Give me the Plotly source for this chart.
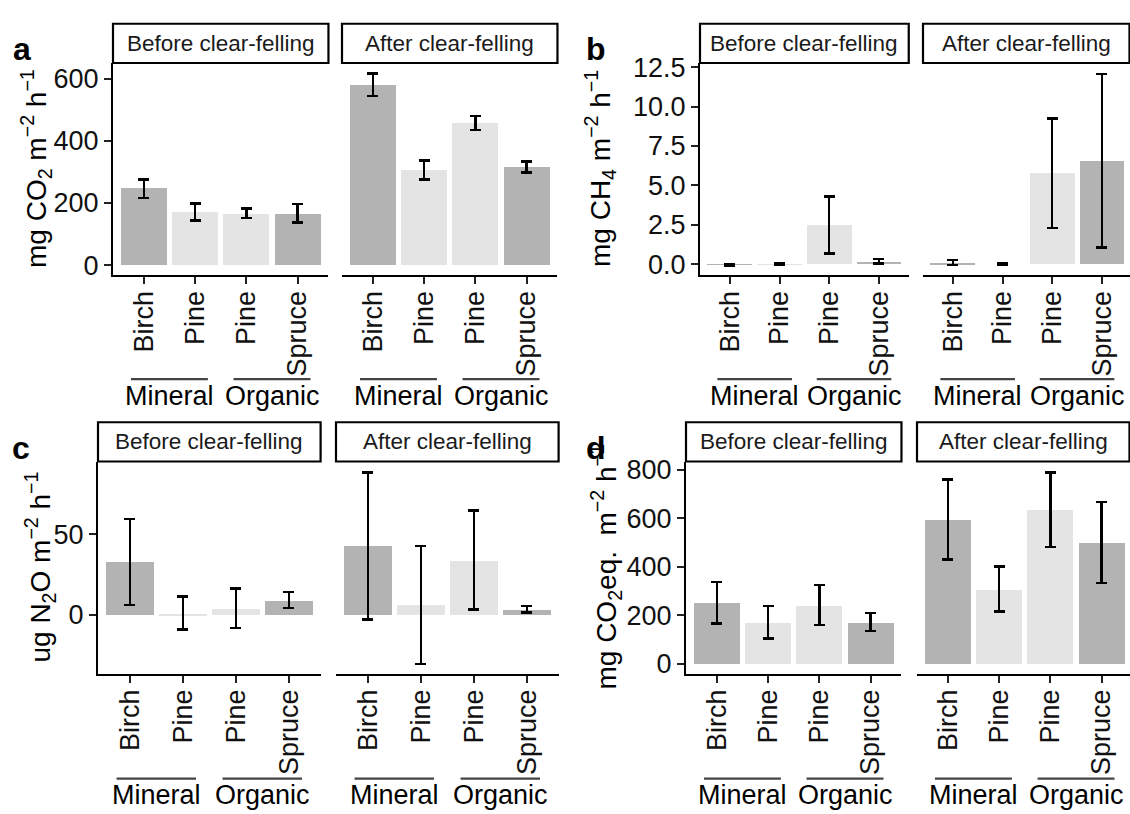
import plotly.graph_objects as go

W, H = 1130, 814
FONT = "Liberation Sans, Arial, sans-serif"

# ---------------- data ----------------
species = ["Birch", "Pine", "Pine", "Spruce"]
soil_groups = ["Mineral", "Organic"]
periods = ["Before clear-felling", "After clear-felling"]
bar_colors = ["#b3b3b3", "#e4e4e4", "#e4e4e4", "#b3b3b3"]

# a: CO2 (mg CO2 m-2 h-1)
co2_before = [247, 171, 166, 166]
co2_before_lo = [216, 144, 151, 137]
co2_before_hi = [276, 199, 183, 196]
co2_after = [580, 307, 456, 316]
co2_after_lo = [544, 276, 434, 298]
co2_after_hi = [617, 337, 479, 334]

# b: CH4 (mg CH4 m-2 h-1)
ch4_before = [-0.04, 0.01, 2.49, 0.17]
ch4_before_lo = [-0.09, -0.03, 0.68, 0.05]
ch4_before_hi = [0.01, 0.05, 4.31, 0.33]
ch4_after = [0.10, 0.00, 5.76, 6.55]
ch4_after_lo = [-0.04, -0.04, 2.30, 1.08]
ch4_after_hi = [0.27, 0.05, 9.25, 12.06]

# c: N2O (ug N2O m-2 h-1)
n2o_before = [33.1, 1.0, 4.1, 9.0]
n2o_before_lo = [5.9, -9.2, -8.2, 4.1]
n2o_before_hi = [59.8, 11.2, 16.3, 14.3]
n2o_after = [42.9, 6.1, 33.7, 3.1]
n2o_after_lo = [-3.1, -30.6, 3.1, 1.4]
n2o_after_hi = [88.8, 42.9, 64.9, 5.5]

# d: total (mg CO2eq. m-2 h-1)
ghg_before = [252, 171, 240, 171]
ghg_before_lo = [166, 104, 159, 135]
ghg_before_hi = [337, 238, 324, 209]
ghg_after = [594, 308, 634, 499]
ghg_after_lo = [430, 216, 482, 333]
ghg_after_hi = [760, 401, 789, 668]

co2_ticks = [0, 200, 400, 600]
ch4_ticks = [0, 2.5, 5, 7.5, 10, 12.5]
n2o_ticks = [0, 50]
ghg_ticks = [0, 200, 400, 600, 800]

panels = [
    dict(letter="a", data=[(co2_before, co2_before_lo, co2_before_hi), (co2_after, co2_after_lo, co2_after_hi)],
         ticks=co2_ticks, fmt="", yrange=(-31.6, 650),
         ylabel="mg CO<sub>2</sub> m<sup>−2</sup> h<sup>−1</sup>",
         starts=(113, 342), unit=51.3, strip=(14, 54), plot=(54, 270),
         ylab_x=36, letter_xy=(22, 40), line_y=376, text_y=393),
    dict(letter="b", data=[(ch4_before, ch4_before_lo, ch4_before_hi), (ch4_after, ch4_after_lo, ch4_after_hi)],
         ticks=ch4_ticks, fmt=".1f", yrange=(-0.68, 12.76),
         ylabel="mg CH<sub>4</sub> m<sup>−2</sup> h<sup>−1</sup>",
         starts=(700, 923), unit=49.7, strip=(14, 54), plot=(54, 270),
         ylab_x=600, letter_xy=(596, 40), line_y=376, text_y=393),
    dict(letter="c", data=[(n2o_before, n2o_before_lo, n2o_before_hi), (n2o_after, n2o_after_lo, n2o_after_hi)],
         ticks=n2o_ticks, fmt="", yrange=(-36.7, 95.5),
         ylabel="ug N<sub>2</sub>O m<sup>−2</sup> h<sup>−1</sup>",
         starts=(98, 336), unit=53.0, strip=(420, 460), plot=(460, 676),
         ylab_x=40, letter_xy=(21, 446), line_y=783, text_y=800),
    dict(letter="d", data=[(ghg_before, ghg_before_lo, ghg_before_hi), (ghg_after, ghg_after_lo, ghg_after_hi)],
         ticks=ghg_ticks, fmt="", yrange=(-40.5, 834),
         ylabel="mg CO<sub>2</sub>eq.  m<sup>−2</sup> h<sup>−1</sup>",
         starts=(686, 917), unit=51.3, strip=(420, 460), plot=(460, 676),
         ylab_x=606, letter_xy=(596, 446), line_y=783, text_y=800),
]

def px(x):
    return x / W

def py(y):
    return 1 - y / H

fig = go.Figure()
layout = dict(width=W, height=H, margin=dict(l=0, r=0, t=0, b=0), autosize=False,
              paper_bgcolor="white", plot_bgcolor="white", showlegend=False,
              font=dict(family=FONT, color="black"), bargap=0)
shapes, annotations = [], []
positions = [1, 2, 3, 4]

ax = 0
for p in panels:
    for fi in range(2):
        ax += 1
        xs = "x" if ax == 1 else f"x{ax}"
        ys = "y" if ax == 1 else f"y{ax}"
        start = p["starts"][fi]
        end = min(start + 4.2 * p["unit"], W - 0.5)
        xmax = 0.4 + (end - start) / p["unit"]
        vals, lo, hi = p["data"][fi]
        fig.add_trace(go.Bar(
            x=positions, y=vals, width=0.9, marker=dict(color=bar_colors, line=dict(width=0)),
            error_y=dict(type="data", symmetric=False,
                         array=[h - v for h, v in zip(hi, vals)],
                         arrayminus=[v - l for v, l in zip(vals, lo)],
                         color="black", thickness=2.5, width=5.5),
            xaxis=xs, yaxis=ys, hoverinfo="skip"))
        top, bot = p["plot"]
        layout[f"xaxis{ax}"] = dict(
            domain=[px(start), px(end)], range=[0.4, xmax], anchor=ys,
            tickvals=positions, ticktext=species, tickangle=-90,
            tickfont=dict(size=27, color="#111111", family=FONT),
            ticklabelstandoff=-4,
            showline=True, linecolor="black", linewidth=2.2, mirror=False,
            ticks="outside", ticklen=7, tickwidth=2, tickcolor="#222222",
            showgrid=False, zeroline=False, fixedrange=True)
        left = fi == 0
        layout[f"yaxis{ax}"] = dict(
            domain=[py(bot), py(top)], range=list(p["yrange"]), anchor=xs,
            tickvals=p["ticks"], tickformat=p["fmt"],
            tickfont=dict(size=27, color="#111111", family=FONT),
            showline=left, linecolor="black", linewidth=2.2,
            ticks="outside" if left else "", ticklen=7, tickwidth=2, tickcolor="#222222",
            showticklabels=left, showgrid=False, zeroline=False, fixedrange=True)
        # strip
        s0, s1 = p["strip"]
        shapes.append(dict(type="rect", xref="paper", yref="paper",
                           x0=px(start), x1=px(end), y0=py(s1), y1=py(s0),
                           line=dict(color="black", width=2.2), fillcolor="white"))
        annotations.append(dict(text=periods[fi], xref="paper", yref="paper",
                                x=px((start + end) / 2), y=py((s0 + s1) / 2),
                                xanchor="center", yanchor="middle", showarrow=False,
                                font=dict(size=22.5, color="#1a1a1a", family=FONT)))
        # soil group brackets
        for gi, g in enumerate(soil_groups):
            c = 1.5 + 2 * gi
            shapes.append(dict(type="line", xref=xs, yref="paper",
                               x0=c - 0.75, x1=c + 0.75, y0=py(p["line_y"]), y1=py(p["line_y"]),
                               line=dict(color="#444444", width=2.2)))
            annotations.append(dict(text=g, xref=xs, yref="paper", x=c, y=py(p["text_y"]),
                                    xanchor="center", yanchor="middle", showarrow=False,
                                    font=dict(size=27, color="black", family=FONT)))
    # y label
    top, bot = p["plot"]
    annotations.append(dict(text=p["ylabel"], xref="paper", yref="paper",
                            x=px(p["ylab_x"]), y=py((top + bot) / 2), textangle=-90,
                            xanchor="center", yanchor="middle", showarrow=False,
                            font=dict(size=28, color="black", family=FONT)))
    lx, ly = p["letter_xy"]
    annotations.append(dict(text=f"<b>{p['letter']}</b>", xref="paper", yref="paper",
                            x=px(lx), y=py(ly), xanchor="center", yanchor="middle",
                            showarrow=False, font=dict(size=32, color="black", family=FONT)))

layout["shapes"] = shapes
layout["annotations"] = annotations
fig.update_layout(**layout)
fig.write_html(
    "out.html",
    config={"displayModeBar": False},
    post_script="document.body.style.margin='0';document.body.style.padding='0';"
                "document.body.style.overflow='hidden';",
)
